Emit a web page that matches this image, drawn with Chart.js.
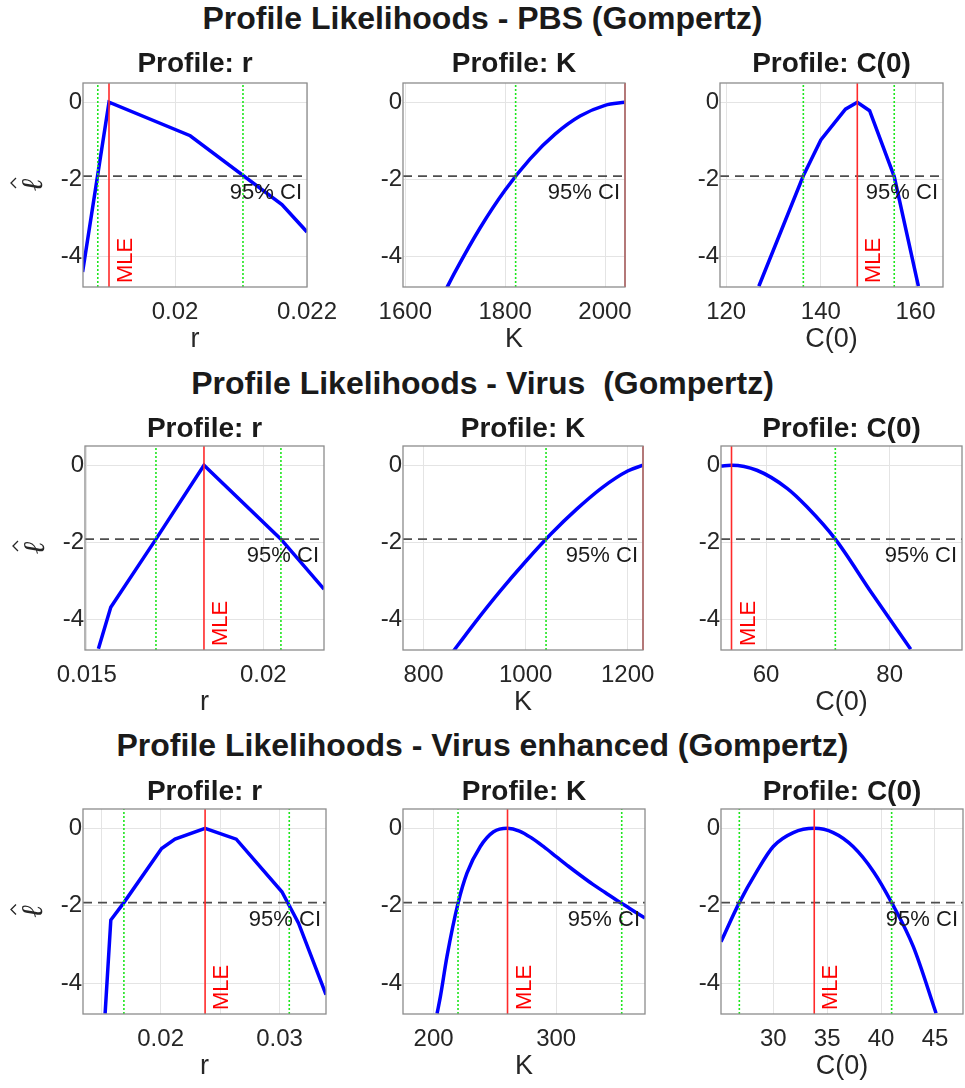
<!DOCTYPE html>
<html>
<head>
<meta charset="utf-8">
<script src="https://cdn.jsdelivr.net/npm/chart.js@4.4.1/dist/chart.umd.min.js"></script>
<style>
  body { margin: 0; background: #fff; }
  #page { position: relative; width: 965px; height: 1088px; overflow: hidden; background: #fff; }
  .fig-title { position: absolute; left: 0; width: 965px; text-align: center; font: bold 32px "Liberation Sans", Arial, sans-serif; line-height: 32px; color: #1a1a1a; white-space: pre; }
  canvas { position: absolute; }
</style>
</head>
<body>
<div id="page"></div>
<script>
const fontFamily = '"Liberation Sans", Arial, sans-serif'

// shared y axis
const yTicks = [-4, -2, 0]
const yMin = -4.8
const yMax = 0.5
const ciLevel = -1.92

const rowTitles = ['Profile Likelihoods - PBS (Gompertz)', 'Profile Likelihoods - Virus  (Gompertz)', 'Profile Likelihoods - Virus enhanced (Gompertz)']
const panelTitles = ['Profile: r', 'Profile: K', 'Profile: C(0)']
const paramNames = ['r', 'K', 'C(0)']

// PBS
const pbsRGrid = [0.0186, 0.0190, 0.02023, 0.02162, 0.0220]
const pbsRProfile = [-4.41, 0, -0.87, -2.66, -3.37]
const pbsKGrid = [1680, 1700, 1750, 1800, 1850, 1900, 1950, 2000, 2040]
const pbsKProfile = [-4.90, -4.40, -3.26, -2.28, -1.47, -0.83, -0.36, -0.08, 0]
const pbsC0Grid = [126.9, 136.3, 140, 145.2, 147.7, 150.3, 155.5, 160.6]
const pbsC0Profile = [-4.78, -1.91, -0.98, -0.18, 0, -0.22, -1.93, -4.78]
const pbsMle = [0.0190, 2040, 147.7]
const pbsCiLow = [0.01883, 1821, 136.3]
const pbsCiHigh = [0.02103, null, 155.5]

// Virus
const virRGrid = [0.01533, 0.01568, 0.01696, 0.01832, 0.0205, 0.02172]
const virRProfile = [-4.77, -3.69, -1.92, 0, -1.92, -3.22]
const virKGrid = [850, 900, 950, 1000, 1050, 1100, 1150, 1200, 1230]
const virKProfile = [-4.98, -4.10, -3.27, -2.50, -1.78, -1.14, -0.58, -0.15, 0]
const virC0Grid = [52.7, 54.4, 58.5, 63.4, 66.6, 71.2, 77, 83.4]
const virC0Profile = [-0.02, 0, -0.13, -0.60, -1.08, -1.92, -3.30, -4.78]
const virMle = [0.01832, 1230, 54.4]
const virCiLow = [0.01696, 1040, null]
const virCiHigh = [0.0205, null, 71.2]

// Virus enhanced
const venRGrid = [0.01533, 0.01581, 0.01691, 0.02008, 0.02121, 0.02374, 0.02636, 0.0302, 0.0316, 0.03391]
const venRProfile = [-4.79, -2.37, -1.92, -0.52, -0.28, 0, -0.28, -1.64, -2.45, -4.30]
const venKGrid = [202.8, 205.5, 210.9, 219.9, 227.2, 238.1, 248.9, 260.3, 270, 280, 290, 300, 310, 320, 330, 340, 350, 360, 372.5]
const venKProfile = [-4.79, -4.35, -3.31, -1.94, -1.16, -0.47, -0.09, 0, -0.07, -0.25, -0.48, -0.73, -0.98, -1.22, -1.45, -1.66, -1.87, -2.07, -2.32]
const venC0Grid = [25.15, 26.85, 28.46, 30, 31.86, 33.8, 35.56, 37.4, 39.3, 40.98, 42.99, 45.1]
const venC0Profile = [-2.93, -1.92, -1.12, -0.47, -0.11, 0, -0.11, -0.47, -1.12, -1.92, -3.06, -4.78]
const venMle = [0.02374, 260.3, 33.8]
const venCiLow = [0.01691, 219.9, 26.85]
const venCiHigh = [0.03082, 353.5, 40.98]

// x ticks
const pbsRTicks = [0.02, 0.022];          const pbsRLabels = ['0.02', '0.022']
const pbsKTicks = [1600, 1800, 2000];     const pbsKLabels = ['1600', '1800', '2000']
const pbsC0Ticks = [120, 140, 160];       const pbsC0Labels = ['120', '140', '160']
const virRTicks = [0.015, 0.02];          const virRLabels = ['0.015', '0.02']
const virKTicks = [800, 1000, 1200];      const virKLabels = ['800', '1000', '1200']
const virC0Ticks = [60, 80];              const virC0Labels = ['60', '80']
const venRTicks = [0.015, 0.02, 0.025, 0.03]; const venRLabels = ['', '0.02', '', '0.03']
const venKTicks = [200, 300];             const venKLabels = ['200', '300']
const venC0Ticks = [30, 35, 40, 45];      const venC0Labels = ['30', '35', '40', '45']

// axis limits
const pbsXRange = [[0.018606, 0.022], [1595.4, 2040], [118.7, 165.8]]
const virXRange = [[0.01495, 0.02172], [759.7, 1230], [52.7, 91.7]]
const venXRange = [[0.01347, 0.03391], [175, 372.5], [25.15, 47.6]]

const grids = [[pbsRGrid, pbsKGrid, pbsC0Grid], [virRGrid, virKGrid, virC0Grid], [venRGrid, venKGrid, venC0Grid]]
const profiles = [[pbsRProfile, pbsKProfile, pbsC0Profile], [virRProfile, virKProfile, virC0Profile], [venRProfile, venKProfile, venC0Profile]]
const mles = [pbsMle, virMle, venMle]
const ciLows = [pbsCiLow, virCiLow, venCiLow]
const ciHighs = [pbsCiHigh, virCiHigh, venCiHigh]
const xTicks = [[pbsRTicks, pbsKTicks, pbsC0Ticks], [virRTicks, virKTicks, virC0Ticks], [venRTicks, venKTicks, venC0Ticks]]
const xLabels = [[pbsRLabels, pbsKLabels, pbsC0Labels], [virRLabels, virKLabels, virC0Labels], [venRLabels, venKLabels, venC0Labels]]
const xRanges = [pbsXRange, virXRange, venXRange]
// which profiles are drawn as a smooth curve
const smooth = [[false, true, false], [false, true, true], [false, true, true]]

// layout (plot area of each panel, page pixels)
const titleTop = [2, 367, 729]
const rowTop = [83, 446, 809]
const rowHeight = [204, 204, 205]
const subGap = [11, 9, 9]
const panelLeft = [[83, 403, 720], [85, 403, 721], [83, 403, 721]]
const panelWidth = [[224, 222, 223], [239, 240, 241], [243, 242, 242]]
const axisW = 80, padTop = 50, padRight = 50, axisH = 75

const page = document.getElementById('page')

rowTitles.forEach((t, i) => {
  const d = document.createElement('div')
  d.className = 'fig-title'
  d.style.top = titleTop[i] + 'px'
  d.textContent = t
  page.appendChild(d)
})

const decorPlugin = {
  id: 'decor',
  afterDatasetsDraw(chart, args, opts) {
    const { ctx, chartArea: a, scales: { x, y } } = chart
    ctx.save()
    ctx.beginPath()
    ctx.rect(a.left, a.top, a.right - a.left, a.bottom - a.top)
    ctx.clip()
    ctx.font = '22px ' + fontFamily
    ctx.fillStyle = '#1a1a1a'
    ctx.textAlign = 'right'
    ctx.textBaseline = 'middle'
    ctx.fillText('95% CI', a.right - 5, y.getPixelForValue(ciLevel) + 17)
    ctx.translate(x.getPixelForValue(opts.mle) + 23, a.bottom - 4)
    ctx.rotate(-Math.PI / 2)
    ctx.fillStyle = '#ff0000'
    ctx.textAlign = 'left'
    ctx.textBaseline = 'alphabetic'
    ctx.fillText('MLE', 0, 0)
    ctx.restore()
  },
  afterDraw(chart, args, opts) {
    const { ctx, chartArea: a } = chart
    ctx.save()
    ctx.strokeStyle = '#8c8c8c'
    ctx.lineWidth = 1.3
    ctx.strokeRect(a.left, a.top, a.right - a.left, a.bottom - a.top)
    ctx.font = 'bold 28px ' + fontFamily
    ctx.fillStyle = '#1a1a1a'
    ctx.textAlign = 'center'
    ctx.textBaseline = 'alphabetic'
    ctx.fillText(opts.subtitle, (a.left + a.right) / 2, a.top - opts.gap)
    ctx.restore()

    // y label: script l with a hat, rotated
    if (opts.ylabel) {
      ctx.save()
      ctx.translate(a.left - 41, (a.top + a.bottom) / 2)
      ctx.rotate(-Math.PI / 2)
      ctx.fillStyle = '#262626'
      ctx.strokeStyle = '#262626'
      ctx.font = 'italic 30px "DejaVu Serif"'
      ctx.textAlign = 'center'
      ctx.textBaseline = 'alphabetic'
      ctx.fillText('ℓ', 0, 0)
      ctx.lineWidth = 1.3
      ctx.beginPath()
      ctx.moveTo(-3, -26)
      ctx.lineTo(2, -31)
      ctx.lineTo(7, -26)
      ctx.stroke()
      ctx.restore()
    }
  }
}

function vLine(v, color, width, dash, clip) {
  return { data: [{ x: v, y: yMin }, { x: v, y: yMax }], borderColor: color, borderWidth: width, borderDash: dash, pointRadius: 0, clip: clip }
}

for (let row = 0; row < 3; row++) {
  for (let col = 0; col < 3; col++) {
    const L = panelLeft[row][col], T = rowTop[row]
    const w = panelWidth[row][col], h = rowHeight[row]
    const canvas = document.createElement('canvas')
    canvas.width = axisW + w + padRight
    canvas.height = padTop + h + axisH
    canvas.style.left = (L - axisW) + 'px'
    canvas.style.top = (T - padTop) + 'px'
    page.appendChild(canvas)

    const [xMin, xMax] = xRanges[row][col]
    const mle = mles[row][col]
    const datasets = []
    ;[ciLows[row][col], ciHighs[row][col]].forEach(v => {
      if (v !== null) datasets.push(vLine(v, '#1ee61e', 1.6, [2, 2], 0))
    })
    datasets.push(vLine(mle, '#ff2a2a', 1.6, [], 2))
    datasets.push({ data: [{ x: xMin, y: ciLevel }, { x: xMax, y: ciLevel }], borderColor: '#4d4d4d', borderWidth: 1.6, borderDash: [9, 6], pointRadius: 0, clip: 0 })
    const xs = grids[row][col], ys = profiles[row][col]
    datasets.push({
      data: xs.map((x, i) => ({ x: x, y: ys[i] })),
      borderColor: '#0000ff',
      borderWidth: 3.5,
      pointRadius: 0,
      tension: smooth[row][col] ? 0.4 : 0,
      cubicInterpolationMode: smooth[row][col] ? 'monotone' : 'default',
      clip: 0
    })

    const ticks = xTicks[row][col], labels = xLabels[row][col]
    new Chart(canvas, {
      type: 'line',
      data: { datasets: datasets },
      plugins: [decorPlugin],
      options: {
        responsive: false,
        animation: false,
        devicePixelRatio: 1,
        layout: { autoPadding: false, padding: { left: 0, top: padTop, right: padRight, bottom: 0 } },
        plugins: {
          legend: { display: false },
          title: { display: false },
          tooltip: { enabled: false },
          decor: { mle: mle, subtitle: panelTitles[col], gap: subGap[row], ylabel: col === 0 }
        },
        scales: {
          x: {
            type: 'linear',
            min: xMin,
            max: xMax,
            afterBuildTicks: s => { s.ticks = ticks.map(v => ({ value: v })) },
            afterFit: s => { s.height = axisH },
            grid: { color: '#e4e4e4', drawTicks: false },
            border: { display: false },
            ticks: { autoSkip: false, maxRotation: 0, padding: 11, color: '#262626', font: { size: 24, family: fontFamily }, callback: (v, i) => labels[i] },
            title: { display: true, text: paramNames[col], color: '#262626', font: { size: 27, family: fontFamily, lineHeight: 1 }, padding: { top: 0, bottom: 9 } }
          },
          y: {
            min: yMin,
            max: yMax,
            afterBuildTicks: s => { s.ticks = yTicks.map(v => ({ value: v })) },
            afterFit: s => { s.width = axisW },
            grid: { color: '#e4e4e4', drawTicks: false },
            border: { display: false },
            ticks: { padding: 1, color: '#262626', font: { size: 24, family: fontFamily } }
          }
        }
      }
    })
  }
}
</script>
</body>
</html>
